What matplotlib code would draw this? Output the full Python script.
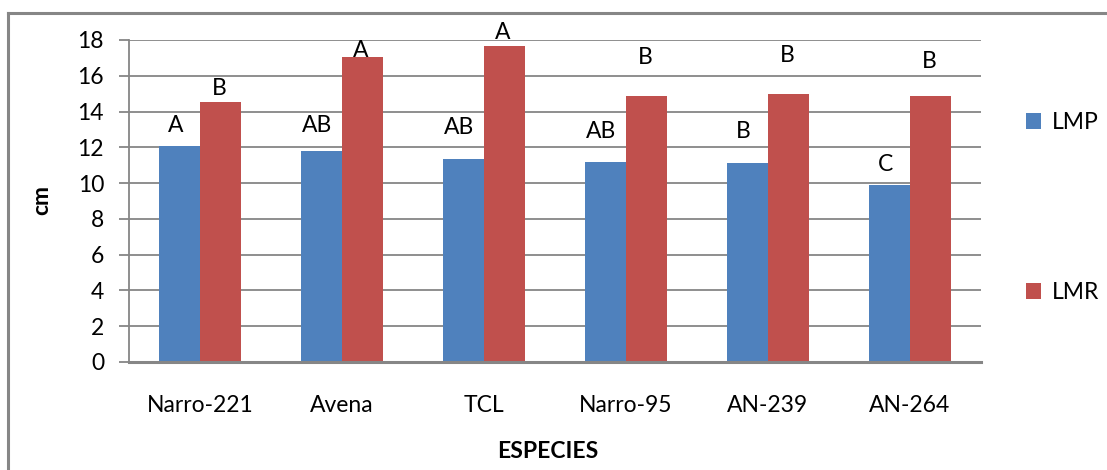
import matplotlib
matplotlib.use("Agg")
import matplotlib.pyplot as plt
from matplotlib.lines import Line2D
from matplotlib.patches import Patch
import numpy as np

plt.rcParams['font.family'] = ['Lato', 'DejaVu Sans']

# Data
especies = ["Narro-221", "Avena", "TCL", "Narro-95", "AN-239", "AN-264"]
lmp = [12.05, 11.79, 11.34, 11.17, 11.12, 9.89]
lmr = [14.53, 17.04, 17.65, 14.86, 14.97, 14.86]
lmp_letters = ["A", "AB", "AB", "AB", "B", "C"]
lmr_letters = ["B", "A", "A", "B", "B", "B"]
y_ticks = [0, 2, 4, 6, 8, 10, 12, 14, 16, 18]

# Heights at which the significance letters sit
lmp_letter_y = [13.2, 13.2, 13.1, 12.9, 12.9, 11.05]
lmr_letter_y = [15.3, 17.4, 18.4, 17.0, 17.15, 16.8]

blue = "#4F81BD"
red = "#C0504D"
gray = "#868686"
fs = 16.5

W, H = 1107, 470
fig = plt.figure(figsize=(W / 100, H / 100), dpi=100)
ax = fig.add_axes([129 / W, 1 - 362 / H, (981 - 129) / W, (362 - 40) / H])

x = np.arange(len(especies))
bw = 0.289
ax.bar(x - bw / 2, lmp, bw, color=blue, zorder=3, label="LMP")
ax.bar(x + bw / 2, lmr, bw, color=red, zorder=3, label="LMR")

for xi, t, yy in zip(x, lmp_letters, lmp_letter_y):
    ax.text(xi - bw / 2 - 0.03, yy, t, ha="center", va="center", fontsize=fs, zorder=4)
for xi, t, yy in zip(x, lmr_letters, lmr_letter_y):
    ax.text(xi + bw / 2 - 0.01, yy, t, ha="center", va="center", fontsize=fs, zorder=4)

ax.set_xlim(-0.5, len(especies) - 0.5)
ax.set_ylim(0, 18)
ax.set_yticks(y_ticks)
ax.set_yticklabels([str(v) for v in y_ticks])
ax.set_xticks(x)
ax.set_xticklabels(especies)
ax.yaxis.grid(True, color=gray, linewidth=1.3, zorder=0)
ax.set_axisbelow(True)

for s in ["top", "right"]:
    ax.spines[s].set_visible(False)
ax.spines["left"].set_color(gray)
ax.spines["left"].set_linewidth(1.3)
ax.spines["bottom"].set_color(gray)
ax.spines["bottom"].set_linewidth(2.2)
ax.spines["bottom"].set_zorder(5)

ax.tick_params(axis="y", length=7, width=1.3, color=gray, pad=11, labelsize=fs)
ax.tick_params(axis="x", length=0, pad=24, labelsize=fs)

fig.text(42 / W, 1 - 200 / H, "cm", rotation=90, ha="center", va="center",
         fontsize=fs, fontweight="bold")
fig.text(548 / W, 1 - 451 / H, "ESPECIES", ha="center", va="center",
         fontsize=fs, fontweight="bold")

# Legend entries stacked far apart
handles = [Patch(facecolor=blue, edgecolor="none"), Patch(facecolor=red, edgecolor="none")]
fig.legend(handles, ["LMP", "LMR"], loc="upper left",
           bbox_to_anchor=(1026 / W, 1 - 112 / H), frameon=False,
           borderpad=0, borderaxespad=0,
           handlelength=0.65, handleheight=0.65, handletextpad=0.5,
           labelspacing=6.5, fontsize=fs)

# Outer chart frame
fig.add_artist(Line2D([8 / W, 8 / W], [0, 1 - 13 / H], color=gray, linewidth=2.2,
                      transform=fig.transFigure))
fig.add_artist(Line2D([8 / W, 1], [1 - 13 / H, 1 - 13 / H], color=gray, linewidth=2.2,
                      transform=fig.transFigure))

fig.savefig("out.png", dpi=100)
